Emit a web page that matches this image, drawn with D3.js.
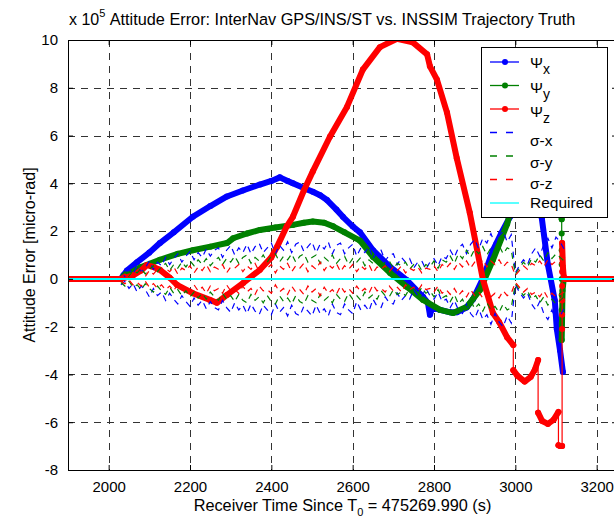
<!DOCTYPE html>
<html><head><meta charset="utf-8">
<script src="https://cdn.jsdelivr.net/npm/d3@7"></script>
<style>
body{margin:0;background:#fff;}
svg{display:block;font-family:"Liberation Sans",Arial,Helvetica,sans-serif;}
</style></head><body>
<svg id="chart" width="614" height="517"></svg>
<script>
// ---------------- data ----------------
const xDomain = [1900, 3250];
const yDomain = [-8, 10];
const xTicks = [2000, 2200, 2400, 2600, 2800, 3000, 3200];
const yTicks = [-8, -6, -4, -2, 0, 2, 4, 6, 8, 10];
const exponentText = "x 10";
const exponentSup = "5";
const titleText = "Attitude Error: InterNav GPS/INS/ST vs. INSSIM Trajectory Truth";
const yLabelText = "Attitude Error [micro-rad]";
const xLabelMain = "Receiver Time Since T";
const xLabelSub = "0";
const xLabelRest = " = 475269.990 (s)";

// [time, value] (x 1e5 micro-rad)
const psiX = [[1900,0],[2030,0],[2045,0.35],[2070,0.7],[2100,1.1],[2126,1.5],[2160,1.95],[2207,2.6],[2250,3.05],[2291,3.45],[2330,3.7],[2372,3.95],[2400,4.1],[2421,4.25],[2440,4.1],[2453,4.0],[2480,3.8],[2502,3.65],[2520,3.5],[2537,3.3],[2560,2.9],[2576,2.6],[2600,2.2],[2618,1.95],[2650,1.2],[2692,0.5],[2733,-0.05],[2773,-0.75],[2785,-1.0],[2790,-1.5],[2796,-1.2],[2815,-1.3],[2840,-1.4],[2856,-1.4],[2880,-1.2],[2896,-0.85],[2920,0],[2945,1.2],[2965,1.9],[2987,2.6],[3005,4.2],[3020,6.0],[3035,6.8],[3050,5.5],[3065,2.55],[3080,0.6],[3097,-0.9],[3102,-2.1],[3110,-3.0],[3117,-3.9]];
const psiY = [[1900,0],[2030,0],[2045,0.17],[2080,0.5],[2126,0.8],[2170,1.05],[2207,1.2],[2250,1.35],[2291,1.5],[2306,1.7],[2340,1.9],[2372,2.05],[2410,2.15],[2453,2.26],[2480,2.35],[2502,2.4],[2530,2.35],[2552,2.2],[2580,1.95],[2618,1.6],[2650,0.92],[2692,0.25],[2733,-0.33],[2773,-0.88],[2815,-1.3],[2847,-1.43],[2881,-1.17],[2913,-0.46],[2945,0.8],[2980,2.3],[3000,3.6],[3030,5.0],[3060,5.5],[3090,4.5],[3108,3.4],[3114,2.5],[3114,1.9],[3114,1.2],[3114,0.6],[3114,0],[3114,-0.67],[3114,-1.3],[3114,-1.85],[3114,-2.56],[3116,-0.5],[3119,0],[3250,0]];
const psiZ = [[1900,0],[2030,0],[2060,0.15],[2080,0.35],[2094,0.58],[2110,0.5],[2126,0.38],[2150,0.05],[2168,-0.25],[2207,-0.6],[2249,-0.88],[2266,-1.0],[2291,-0.67],[2331,-0.17],[2372,0.38],[2400,0.9],[2414,1.34],[2438,2.2],[2453,2.6],[2480,3.7],[2502,4.5],[2544,5.95],[2586,7.2],[2625,8.76],[2667,9.7],[2709,10.05],[2748,9.9],[2783,9.4],[2790,8.9],[2807,8.35],[2832,6.96],[2856,5.05],[2888,2.77],[2920,0],[2945,-1.43],[2960,-1.8],[2980,-2.45],[2995,-2.77],[2995,-3.82],[3005,-4.05],[3023,-4.3],[3038,-4.1],[3048,-3.8],[3056,-3.4],[3056,-5.6],[3066,-5.95],[3080,-6.07],[3094,-5.9],[3106,-5.57],[3106,-6.96],[3110,-7.0],[3115,-7.0],[3115,-2.1],[3115,-1.5],[3115,-0.9],[3115,-0.3],[3115,0.3],[3115,0.9],[3115,1.5],[3117,0.5],[3119,0.1],[3122,0],[3250,0]];

const sigmaTime = [2030,2040,2050,2060,2070,2080,2090,2100,2110,2120,
  2130,2140,2150,2160,2170,2180,2190,2200,2210,2220,
  2230,2240,2250,2260,2270,2280,2290,2300,2310,2320,
  2330,2340,2350,2360,2370,2380,2390,2400,2410,2420,
  2430,2440,2450,2460,2470,2480,2490,2500,2510,2520,
  2530,2540,2550,2560,2570,2580,2590,2600,2610,2620,
  2630,2640,2650,2660,2670,2680,2690,2700,2710,2720,
  2730,2740,2750,2760,2770,2780,2790,2800,2810,2820,
  2830,2840,2850,2860,2870,2880,2890,2900,2910,2920,
  2930,2940,2950,2960,2970,2980,2990,3000,3010,3020,
  3030,3040,3050,3060,3070,3080,3090,3100,3110,3120];
const sigmaX = [0.25,0.10,0.40,0.20,0.55,0.30,0.45,0.75,0.40,0.70,
  0.55,0.90,0.60,0.85,1.05,0.70,0.95,1.15,0.80,1.10,
  0.90,1.25,0.95,1.20,1.30,0.90,1.20,1.40,1.00,1.30,
  1.10,1.45,1.05,1.35,1.50,1.10,1.30,1.50,1.05,1.40,
  1.20,1.55,1.10,1.45,1.55,1.15,1.35,1.55,1.10,1.45,
  1.25,1.55,1.05,1.40,1.50,1.05,1.30,1.45,0.95,1.30,
  1.10,1.35,0.85,1.15,1.20,0.75,1.00,1.05,0.60,0.90,
  0.70,0.85,0.45,0.70,0.75,0.40,0.70,0.85,0.55,0.95,
  0.85,1.20,0.90,1.30,1.45,1.05,1.45,1.65,1.25,1.70,
  1.50,1.90,1.45,1.80,2.00,1.55,1.85,0.25,0.55,0.80,
  0.60,1.05,1.30,0.95,1.45,1.70,1.30,1.75,1.55,1.25];
const sigmaY = [0.15,0.30,0.10,0.35,0.25,0.45,0.20,0.40,0.55,0.30,
  0.50,0.65,0.35,0.60,0.45,0.70,0.50,0.75,0.55,0.80,
  0.60,0.85,0.55,0.75,0.90,0.60,0.85,0.70,0.95,0.65,
  0.90,1.00,0.65,0.90,0.75,1.00,0.70,0.95,1.05,0.70,
  0.95,0.80,1.05,0.70,0.95,1.05,0.70,0.90,1.00,0.65,
  0.90,0.75,1.00,0.65,0.85,0.95,0.60,0.85,0.70,0.90,
  0.55,0.80,0.65,0.85,0.50,0.70,0.75,0.45,0.65,0.55,
  0.70,0.40,0.60,0.65,0.35,0.60,0.50,0.75,0.45,0.80,
  0.70,0.95,0.65,1.05,0.85,1.20,0.90,1.25,1.05,1.35,
  1.00,1.30,1.15,1.40,1.05,1.30,1.20,0.20,0.45,0.70,
  0.50,0.85,0.70,1.00,0.75,1.10,0.85,1.05,0.90,0.75];
const sigmaZ = [0.10,0.20,0.05,0.25,0.15,0.30,0.10,0.35,0.20,0.40,
  0.25,0.45,0.30,0.50,0.20,0.45,0.35,0.55,0.25,0.50,
  0.35,0.60,0.30,0.50,0.40,0.60,0.25,0.50,0.45,0.60,
  0.30,0.55,0.40,0.65,0.30,0.50,0.45,0.60,0.25,0.55,
  0.40,0.65,0.30,0.55,0.45,0.65,0.30,0.55,0.40,0.70,
  0.35,0.60,0.45,0.65,0.30,0.55,0.40,0.60,0.30,0.55,
  0.40,0.60,0.25,0.50,0.40,0.55,0.30,0.50,0.35,0.55,
  0.25,0.45,0.35,0.50,0.25,0.45,0.40,0.55,0.30,0.60,
  0.45,0.65,0.40,0.70,0.50,0.75,0.45,0.70,0.55,0.80,
  0.50,0.75,0.60,0.80,0.50,0.70,0.60,0.15,0.35,0.55,
  0.40,0.65,0.55,0.75,0.50,0.80,0.60,0.75,0.65,0.55];
const requiredTime = [1900, 3250];
const requiredValue = [0, 0];

const legendLabels = [
  {main:"Ψ", sub:"x", color:"#0000ff", kind:"psi"},
  {main:"Ψ", sub:"y", color:"#008000", kind:"psi"},
  {main:"Ψ", sub:"z", color:"#ff0000", kind:"psi"},
  {main:"σ-x", sub:"", color:"#0000ff", kind:"sigma"},
  {main:"σ-y", sub:"", color:"#008000", kind:"sigma"},
  {main:"σ-z", sub:"", color:"#ff0000", kind:"sigma"},
  {main:"Required", sub:"", color:"#00ffff", kind:"req"}
];

// ---------------- layout ----------------
const svg = d3.select("#chart");
const L = 68, T = 40, B = 470, R = 617;
const x = d3.scaleLinear().domain(xDomain).range([L, R]);
const y = d3.scaleLinear().domain(yDomain).range([B, T]);

svg.append("rect").attr("width",614).attr("height",517).attr("fill","#fff");
svg.append("defs").append("clipPath").attr("id","clip")
  .append("rect").attr("x",L).attr("y",T).attr("width",R-L).attr("height",B-T);

// grid
const grid = svg.append("g").attr("stroke","#333").attr("stroke-width",1).attr("stroke-dasharray","7,6");
xTicks.forEach(t => grid.append("line").attr("x1",Math.round(x(t))+0.5).attr("x2",Math.round(x(t))+0.5).attr("y1",T).attr("y2",B));
yTicks.filter(t => t > yDomain[0] && t < yDomain[1]).forEach(t =>
  grid.append("line").attr("y1",Math.round(y(t))+0.5).attr("y2",Math.round(y(t))+0.5).attr("x1",L).attr("x2",R));

const plot = svg.append("g").attr("clip-path","url(#clip)");

function drawPsi(data, color){
  const g = plot.append("g");
  let run = [data[0]];
  const lineGen = d3.line().x(d=>x(d[0])).y(d=>y(d[1]));
  const flush = () => {
    if (run.length >= 2) g.append("path").attr("d", lineGen(run)).attr("fill","none")
      .attr("stroke",color).attr("stroke-width",6).attr("stroke-linejoin","round").attr("stroke-linecap","round");
  };
  for (let i = 1; i < data.length; i++){
    const a = data[i-1], b = data[i];
    if (a[0] === b[0]) {
      flush();
      g.append("line").attr("x1",x(a[0])).attr("x2",x(b[0])).attr("y1",y(a[1])).attr("y2",y(b[1]))
        .attr("stroke",color).attr("stroke-width",1.2);
      run = [b];
    } else run.push(b);
  }
  flush();
  g.selectAll("circle").data(data).join("circle").attr("cx",d=>x(d[0])).attr("cy",d=>y(d[1]))
    .attr("r",3).attr("fill",color);
}
drawPsi(psiX, "#0000ff");
drawPsi(psiY, "#008000");
drawPsi(psiZ, "#ff0000");

function drawSigma(vals, color){
  [1,-1].forEach(s => {
    const line = d3.line().x((d,i)=>x(sigmaTime[i])).y(d=>y(s*d));
    plot.append("path").attr("d", line(vals)).attr("fill","none").attr("stroke",color)
      .attr("stroke-width",1.2).attr("stroke-dasharray","6,5");
  });
}
drawSigma(sigmaX, "#0000ff");
drawSigma(sigmaY, "#008000");
drawSigma(sigmaZ, "#ff0000");

plot.append("path").attr("d", d3.line().x((d,i)=>x(requiredTime[i])).y(d=>y(d))(requiredValue))
  .attr("stroke","#00ffff").attr("stroke-width",2).attr("fill","none");

// axes
const fmt = d3.format("d");
const axB = svg.append("g").attr("transform",`translate(0,${B})`)
  .call(d3.axisBottom(x).tickValues(xTicks).tickFormat(fmt).tickSizeInner(-5).tickSizeOuter(0).tickPadding(11));
const axT = svg.append("g").attr("transform",`translate(0,${T})`)
  .call(d3.axisTop(x).tickValues(xTicks).tickFormat("").tickSizeInner(-5).tickSizeOuter(0));
const axL = svg.append("g").attr("transform",`translate(${L},0)`)
  .call(d3.axisLeft(y).tickValues(yTicks).tickFormat(fmt).tickSizeInner(-5).tickSizeOuter(0).tickPadding(10));
const axR = svg.append("g").attr("transform",`translate(${R},0)`)
  .call(d3.axisRight(y).tickValues(yTicks).tickFormat("").tickSizeInner(-5).tickSizeOuter(0));
[axB,axT,axL,axR].forEach(a => {
  a.selectAll("text").attr("font-size",15).attr("font-family","Liberation Sans, Arial, sans-serif").attr("fill","#000");
  a.selectAll("line,path").attr("stroke","#000");
});
axL.selectAll("text").text(d => d < 0 ? "-" + Math.abs(d) : d);

// titles
svg.append("text").attr("x",(L+R)/2).attr("y",25).attr("text-anchor","middle")
  .attr("font-size",16.3).text(titleText);
const ex = svg.append("text").attr("x",69).attr("y",25).attr("font-size",16).attr("text-anchor","start");
ex.append("tspan").text(exponentText);
ex.append("tspan").attr("dy",-8).attr("font-size",11).text(exponentSup);

svg.append("text").attr("transform",`translate(35,${(T+B)/2}) rotate(-90)`).attr("text-anchor","middle")
  .attr("font-size",16).text(yLabelText);
const xl = svg.append("text").attr("x",(L+R)/2).attr("y",511).attr("text-anchor","middle").attr("font-size",16.3);
xl.append("tspan").text(xLabelMain);
xl.append("tspan").attr("dy",5).attr("font-size",11).text(xLabelSub);
xl.append("tspan").attr("dy",-5).text(xLabelRest);

// legend
const lg = svg.append("g");
lg.append("rect").attr("x",481.5).attr("y",47.5).attr("width",126).attr("height",170)
  .attr("fill","#fff").attr("stroke","#000").attr("stroke-width",1);
const textDy = [6,7.5,8,13,12,9,5];
legendLabels.forEach((d,i) => {
  const ly = 62 + i*23.5;
  const ln = lg.append("line").attr("x1",490).attr("x2",519).attr("y1",ly).attr("y2",ly)
    .attr("stroke",d.color).attr("stroke-width",1.3);
  if (d.kind === "sigma") ln.attr("stroke-dasharray","7,9");
  if (d.kind === "psi") lg.append("circle").attr("cx",505).attr("cy",ly).attr("r",3).attr("fill",d.color);
  const t = lg.append("text").attr("x",530).attr("y",ly+textDy[i]).attr("font-size",15.5);
  t.append("tspan").text(d.main);
  if (d.sub) t.append("tspan").attr("dy",6).attr("font-size",14).text(d.sub);
});
</script>
</body></html>
